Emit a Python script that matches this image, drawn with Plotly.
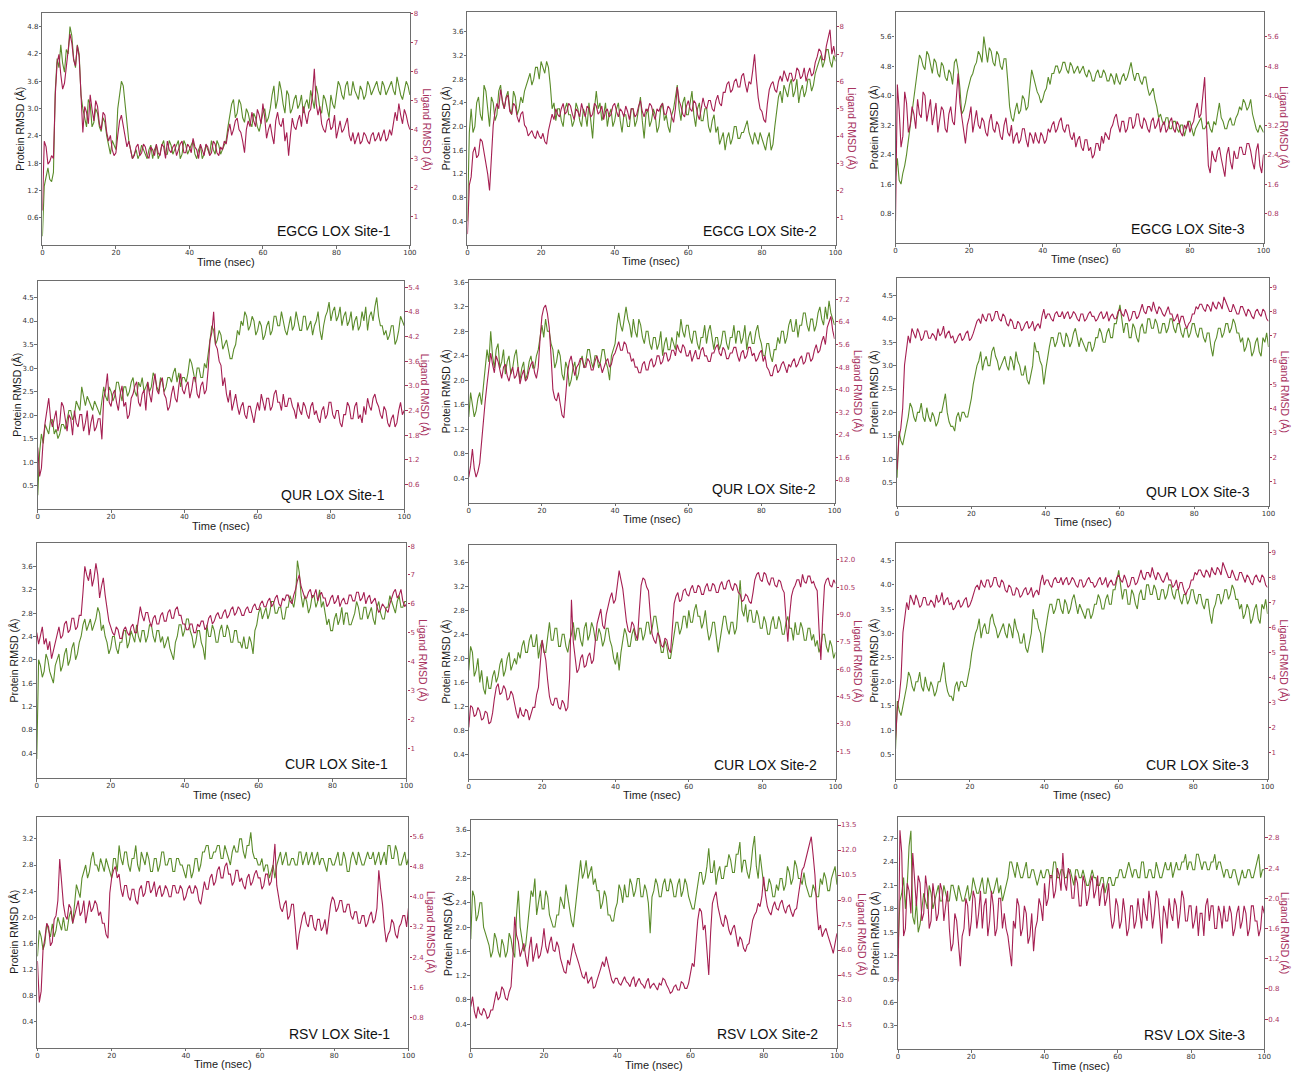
import plotly.graph_objects as go

# ---------------- data (0.5 ns sampling, 0..100 ns) ----------------
TIME_TICKS = ["0", "20", "40", "60", "80", "100"]
STEP_NS = 0.5

EGCG_S1_PROTEIN = [
 0.2,1.3,1.5,1.7,1.45,1.4,1.6,3.4,4.1,3.9,4.4,4.0,3.8,4.3,4.2,4.8,4.6,4.1,3.9,4.4,
 4.2,3.3,3.0,2.8,2.6,3.2,3.1,2.6,2.7,3.0,2.9,2.6,2.5,2.8,2.7,2.4,2.2,2.0,2.3,2.2,
 2.1,3.0,3.3,3.6,3.5,3.1,2.7,2.3,2.1,1.9,2.0,2.1,1.9,2.0,2.2,2.1,2.0,1.9,2.1,2.2,
 1.9,2.1,2.2,1.9,2.0,2.2,2.3,2.0,2.0,2.3,2.2,2.0,2.1,2.2,2.3,1.9,2.0,2.3,2.2,2.0,
 2.1,2.2,2.3,2.0,1.9,2.1,2.2,1.9,2.0,2.2,2.1,2.0,2.3,2.1,2.0,2.3,2.2,2.0,2.1,2.2,
 2.3,2.6,2.9,3.1,3.2,2.8,2.9,3.2,3.1,2.8,2.7,3.0,2.9,2.7,2.6,2.9,2.8,2.6,2.5,2.7,
 2.9,3.0,2.7,2.8,3.0,3.3,3.5,3.0,3.2,3.6,3.4,3.1,2.9,3.4,3.3,2.9,3.0,3.2,3.3,3.0,
 3.1,3.3,2.9,3.1,3.2,3.0,3.4,3.2,3.0,3.5,3.3,3.0,2.9,3.3,3.2,3.0,2.8,3.3,3.1,3.0,
 3.3,3.6,3.5,3.3,3.2,3.5,3.6,3.3,3.3,3.6,3.4,3.3,3.2,3.5,3.4,3.2,3.3,3.6,3.5,3.3,
 3.4,3.5,3.6,3.4,3.3,3.6,3.5,3.3,3.4,3.5,3.6,3.4,3.3,3.7,3.5,3.3,3.2,3.4,3.6,3.5,
 3.3]
EGCG_S1_LIGAND = [
 1.2,3.6,3.4,2.8,2.9,3.1,3.0,5.2,6.3,6.6,5.9,5.4,5.6,6.2,6.6,7.3,7.0,6.4,6.2,6.9,
 6.5,5.0,3.9,4.8,4.6,4.2,5.2,4.7,4.3,5.0,4.8,4.2,4.0,4.6,4.5,3.9,3.6,3.8,3.3,3.1,
 3.2,3.8,4.3,4.5,4.1,3.7,3.4,3.6,3.3,3.0,3.1,3.4,3.5,3.1,3.2,3.5,3.4,3.1,3.0,3.4,
 3.3,3.1,3.5,3.2,3.1,3.5,3.4,3.0,3.6,3.3,3.2,3.4,3.5,3.1,3.3,3.5,3.6,3.2,3.2,3.5,
 3.4,3.2,3.7,3.4,3.3,3.0,3.5,3.3,3.1,3.5,3.4,3.1,3.2,3.6,3.5,3.2,3.1,3.4,3.3,3.6,
 3.5,3.9,4.2,3.8,4.0,4.3,4.4,4.0,3.9,3.6,3.2,4.0,4.3,4.1,4.6,4.3,4.1,4.7,4.5,4.2,
 4.9,4.4,3.7,4.0,4.2,3.8,3.5,4.3,4.6,4.2,4.1,4.4,3.6,3.9,3.1,3.8,4.4,4.1,4.0,4.3,
 4.5,4.1,4.8,4.5,4.2,4.6,4.7,5.2,6.1,4.9,4.5,4.8,4.2,4.0,3.9,4.3,4.4,4.0,4.1,4.5,
 3.7,4.0,4.3,3.9,4.0,4.2,4.4,3.8,3.6,3.9,3.5,3.7,3.9,3.5,3.6,3.9,3.8,3.6,3.5,3.8,
 3.9,3.6,3.7,3.9,3.6,3.8,4.0,3.6,3.7,4.0,3.8,4.2,4.6,4.3,4.9,4.5,4.2,4.7,4.5,4.2,
 4.0]

EGCG_S2_PROTEIN = [
 0.4,1.9,2.3,1.9,2.0,2.4,2.5,2.2,2.1,2.7,2.6,2.3,2.0,2.5,2.4,2.1,2.2,2.6,2.7,2.4,
 2.3,2.5,2.6,2.3,2.2,2.6,2.5,2.2,2.3,2.5,2.4,2.6,2.7,2.8,2.9,2.7,2.8,3.0,3.0,2.8,
 3.1,3.0,2.9,3.1,3.0,2.7,2.3,2.4,2.1,2.3,2.3,2.1,2.0,2.3,2.4,2.2,2.2,2.0,2.1,2.4,
 2.3,2.1,2.0,2.3,2.2,2.0,2.4,2.1,1.8,2.3,2.6,2.3,2.4,2.1,2.2,2.4,2.0,2.2,2.3,2.0,
 2.1,2.3,2.4,2.1,1.9,2.2,2.2,2.0,2.0,2.3,2.3,2.0,2.1,2.3,2.5,2.1,1.8,2.2,2.3,2.0,
 2.1,2.3,2.2,1.9,2.0,2.3,2.4,2.1,2.2,2.0,1.9,2.2,2.3,2.5,2.7,2.3,2.1,2.4,2.5,2.2,
 2.2,2.4,2.6,2.2,2.0,2.3,2.4,2.1,2.1,2.3,2.3,2.0,1.9,2.1,2.2,1.9,2.0,1.7,1.8,1.9,
 1.6,1.8,1.9,1.7,1.8,2.0,2.0,1.8,1.8,1.9,1.9,2.0,2.1,1.9,1.8,1.7,1.9,1.8,1.7,1.9,
 1.8,1.7,1.6,1.8,1.9,1.6,1.7,2.0,2.3,2.5,2.6,2.4,2.7,2.6,2.5,2.7,2.8,2.5,2.6,2.8,
 2.4,2.6,2.7,2.5,2.6,2.8,2.8,2.6,2.7,2.9,3.0,3.1,3.2,3.0,3.1,3.3,3.3,3.1,3.0,3.2,
 3.1]
EGCG_S2_LIGAND = [
 0.4,2.2,2.5,3.4,3.6,3.2,3.3,3.9,3.8,3.4,3.0,2.6,2.0,3.5,4.4,4.9,5.2,5.0,5.7,5.3,
 5.0,5.4,5.5,4.9,4.8,5.2,5.1,4.7,4.5,4.8,4.9,4.4,4.3,4.0,4.1,4.2,4.0,3.9,4.2,4.0,
 3.9,4.1,3.8,3.7,4.2,4.5,4.8,4.6,5.0,4.8,4.7,5.0,5.2,4.8,4.9,5.2,5.1,4.8,4.6,5.0,
 4.9,4.7,5.2,4.9,4.7,5.1,5.0,4.7,4.8,5.2,5.1,4.8,4.9,5.1,4.6,4.9,5.0,4.7,4.8,5.1,
 5.2,4.9,4.7,5.0,4.9,4.7,5.1,4.9,4.6,5.0,5.0,4.7,4.8,5.1,5.3,4.9,4.7,5.0,4.9,5.2,
 5.1,4.8,4.6,5.0,4.9,5.1,5.2,4.8,4.8,5.1,5.0,4.7,4.5,5.0,5.8,5.3,5.1,4.8,4.7,5.1,
 5.3,5.0,4.9,5.3,5.2,4.8,4.6,5.0,5.4,5.1,5.0,5.3,5.3,5.0,4.9,5.3,5.5,5.2,5.1,5.6,
 5.6,5.9,6.0,5.6,5.7,6.0,6.1,5.8,5.8,6.2,6.3,5.9,5.6,6.0,5.9,6.4,7.0,6.1,5.4,5.0,
 4.9,4.6,4.5,5.2,5.7,5.9,6.0,5.7,5.6,6.0,6.2,6.0,6.4,6.2,6.0,6.3,6.3,6.0,6.1,6.5,
 6.4,6.1,6.2,6.5,6.0,6.3,6.5,6.2,6.3,6.7,6.9,7.2,7.1,6.8,6.8,7.3,7.6,7.9,7.0,7.3,
 6.9]

EGCG_S3_PROTEIN = [
 1.8,2.3,1.7,1.6,1.9,2.1,2.4,2.8,3.1,3.6,3.9,4.4,4.8,5.1,5.0,4.8,4.7,5.2,5.1,4.8,
 4.6,5.0,4.9,4.6,4.5,4.9,4.8,4.5,4.4,4.7,4.6,4.3,4.9,5.0,4.7,4.2,3.5,3.6,3.8,4.1,
 4.3,4.5,4.6,4.8,4.9,5.2,5.1,4.9,5.6,5.3,4.9,5.3,5.2,4.9,4.8,5.2,5.1,4.8,4.7,5.0,
 5.0,4.4,3.7,3.4,3.3,3.6,3.8,3.5,3.6,4.0,3.9,3.6,3.7,4.2,4.7,4.5,4.3,4.1,4.0,3.8,
 3.9,4.1,4.2,4.5,4.3,4.6,4.6,4.8,4.8,4.6,4.7,4.9,4.9,4.7,4.6,4.9,4.8,4.6,4.7,4.8,
 4.6,4.7,4.8,4.6,4.5,4.7,4.6,4.4,4.4,4.6,4.7,4.5,4.5,4.7,4.6,4.4,4.4,4.6,4.5,4.3,
 4.6,4.4,4.3,4.5,4.6,4.4,4.5,4.7,4.9,4.6,4.4,4.6,4.6,4.4,4.3,4.5,4.5,4.2,4.0,4.1,
 4.2,3.9,3.7,3.4,3.5,3.3,3.2,3.4,3.4,3.1,3.1,3.3,3.3,3.1,3.0,3.2,3.2,2.9,3.1,3.3,
 3.3,3.1,2.9,3.1,3.2,3.3,3.4,3.1,3.1,3.2,3.3,3.1,3.0,3.3,3.2,3.5,3.8,3.4,3.3,3.1,
 3.1,3.3,3.4,3.2,3.2,3.4,3.5,3.7,3.6,3.9,3.8,3.6,3.7,3.9,3.5,3.3,3.1,3.0,3.2,3.1,
 3.0]
EGCG_S3_LIGAND = [
 0.6,4.3,3.6,2.6,2.9,4.1,3.8,3.0,3.2,3.7,3.5,3.1,3.9,3.5,3.4,4.1,4.0,3.3,3.6,3.9,
 3.2,3.5,3.8,3.0,3.3,3.7,3.6,3.1,3.0,3.5,3.7,3.3,3.2,3.9,4.6,3.8,3.4,3.1,2.7,3.2,
 3.4,3.7,3.0,3.3,3.6,3.2,3.1,3.4,3.3,3.0,2.9,3.3,3.5,3.1,3.0,3.3,3.2,2.9,2.8,3.2,
 3.4,3.0,2.9,3.2,2.7,2.9,3.0,2.7,2.8,3.1,3.1,2.8,2.6,3.0,2.9,2.7,3.0,2.8,2.7,3.0,
 2.9,2.7,2.8,3.1,3.0,3.2,3.3,3.0,3.1,3.3,3.4,3.1,3.0,3.2,3.2,2.9,2.8,3.0,2.6,2.8,
 2.9,2.6,2.5,2.8,2.8,2.5,2.6,2.3,2.4,2.7,2.7,2.5,2.9,2.7,3.0,2.9,2.8,3.1,3.2,3.4,
 3.5,3.2,3.0,3.3,3.3,3.0,3.1,3.4,3.4,3.1,3.2,3.5,3.5,3.2,3.1,3.4,3.3,3.1,3.0,3.3,
 3.4,3.1,3.2,3.4,3.0,3.2,3.3,3.0,3.1,3.3,3.4,3.1,3.0,3.3,3.2,3.0,2.9,3.2,3.1,3.3,
 3.0,3.2,3.3,3.6,3.8,3.4,3.5,4.0,4.5,3.2,2.1,1.9,2.5,2.3,2.2,2.5,2.6,2.3,2.0,1.8,
 2.4,2.6,2.2,2.0,2.5,2.3,2.3,2.6,2.6,2.4,2.4,2.7,2.7,2.5,2.2,2.0,2.5,2.7,2.1,1.9,
 2.4]

QUR_S1_PROTEIN = [
 0.3,1.2,1.6,1.4,1.8,1.7,1.6,1.9,1.9,1.6,1.7,1.5,1.6,1.8,1.8,1.7,1.9,2.1,2.1,1.9,
 2.0,2.3,2.2,2.1,2.6,2.4,2.2,2.4,2.3,2.2,2.1,2.3,2.2,2.1,2.0,2.3,2.6,2.4,2.3,2.6,
 2.5,2.3,2.4,2.7,2.7,2.5,2.3,2.6,2.6,2.4,2.5,2.7,2.8,2.5,2.4,2.7,2.6,2.8,2.5,2.6,
 2.7,2.5,2.6,2.9,2.8,2.6,2.5,2.8,2.7,2.5,2.6,2.8,2.8,2.7,2.9,3.0,2.7,2.9,2.6,2.8,
 2.8,2.7,2.9,3.2,3.1,2.9,2.7,3.0,3.0,2.8,2.8,3.1,3.0,3.3,3.6,3.9,3.8,3.5,3.6,3.8,
 3.7,3.4,3.5,3.6,3.4,3.2,3.2,3.4,3.5,3.8,3.7,4.0,3.9,4.2,4.1,3.8,3.9,4.1,4.0,3.7,
 3.8,4.0,3.9,3.6,3.7,3.9,4.0,3.7,3.8,4.1,4.1,3.9,3.9,4.2,4.0,3.8,3.7,3.9,4.1,3.8,
 3.9,4.2,4.0,3.8,3.8,4.1,4.1,3.8,3.9,4.0,3.7,3.9,4.0,4.2,3.8,3.6,3.9,4.1,4.2,4.4,
 4.0,4.2,4.3,4.0,4.1,4.3,3.9,4.1,4.2,3.9,4.0,4.2,3.8,4.0,4.1,3.8,3.9,4.2,4.0,4.3,
 3.8,4.1,4.2,4.0,4.3,4.5,4.1,3.9,3.9,3.7,3.8,3.6,3.7,3.9,3.9,3.5,3.6,3.8,4.1,4.0,
 3.9]
QUR_S1_LIGAND = [
 1.5,0.8,1.0,1.7,2.1,2.4,2.7,2.2,2.0,2.2,2.4,1.9,2.1,2.6,2.5,2.2,1.9,2.3,2.2,1.8,
 2.4,2.1,2.0,2.3,2.3,1.9,2.1,2.4,1.8,2.1,2.3,1.9,2.0,2.2,2.2,1.7,2.7,2.9,3.3,2.6,
 2.5,2.8,2.9,2.6,2.4,2.8,3.0,2.5,2.6,2.2,2.3,2.7,2.8,3.0,3.1,2.6,2.5,2.8,2.9,2.4,
 3.1,2.8,2.6,3.0,3.3,2.9,2.8,3.1,3.2,2.8,2.7,2.4,2.5,2.8,3.0,2.7,2.6,3.0,3.3,2.9,
 2.8,3.0,3.1,2.7,2.9,3.2,3.2,2.8,2.7,3.0,3.1,2.8,2.9,3.4,4.1,4.3,4.8,4.0,3.9,3.6,
 3.5,3.0,3.2,2.8,2.6,2.9,2.4,2.6,2.8,2.5,2.3,2.5,2.6,2.3,2.2,2.5,2.5,2.3,2.1,2.4,
 2.6,2.4,2.8,2.6,2.4,2.7,2.7,2.4,2.5,2.8,2.9,2.6,2.6,2.4,2.8,2.5,2.5,2.7,2.7,2.5,
 2.4,2.2,2.6,2.4,2.3,2.6,2.5,2.3,2.2,2.5,2.6,2.3,2.4,2.2,2.1,2.4,2.5,2.2,2.3,2.6,
 2.6,2.3,2.2,2.4,2.4,2.1,2.0,2.3,2.3,2.6,2.5,2.2,2.2,2.5,2.6,2.2,2.3,2.1,2.5,2.3,
 2.7,2.5,2.4,2.7,2.8,2.6,2.5,2.3,2.2,2.5,2.4,2.1,2.0,2.2,2.3,2.0,2.1,2.4,2.6,2.3,
 2.4]

QUR_S2_PROTEIN = [
 1.4,1.8,1.6,1.4,1.5,1.7,1.8,1.6,1.9,2.2,2.5,2.3,2.8,2.4,2.2,2.5,2.6,2.2,2.3,2.5,
 2.1,2.3,2.4,2.1,2.2,2.4,2.5,2.2,2.0,2.2,2.3,2.0,2.1,2.3,2.4,2.2,2.2,2.4,2.5,2.7,
 2.9,2.7,3.0,2.8,2.8,2.6,2.5,2.2,2.3,2.5,2.4,2.1,2.0,2.3,2.2,1.9,2.0,2.2,2.3,2.0,
 2.1,2.3,2.4,2.2,2.3,2.5,2.5,2.3,2.2,2.4,2.4,2.2,2.3,2.5,2.5,2.3,2.2,2.0,2.4,2.5,
 2.6,2.9,3.1,2.9,2.8,3.0,3.2,3.0,2.9,2.7,3.0,2.8,2.7,3.0,2.9,2.7,2.6,2.8,2.8,2.6,
 2.5,2.7,2.7,2.5,2.6,2.8,2.4,2.6,2.7,2.5,2.5,2.7,2.6,2.5,2.8,2.7,3.0,2.8,2.7,2.9,
 2.9,2.7,2.6,2.8,2.8,2.6,2.5,2.7,2.7,2.9,2.6,2.8,2.9,2.7,2.5,2.7,2.7,2.5,2.6,2.8,
 2.8,2.6,2.5,2.7,2.7,2.9,2.6,2.8,2.8,2.6,2.7,2.9,2.5,2.7,2.8,2.6,2.6,2.8,2.9,2.7,
 2.6,2.4,2.4,2.6,2.6,2.4,2.3,2.5,2.5,2.7,2.6,2.8,2.8,2.6,2.7,2.9,3.0,2.8,2.8,3.0,
 2.7,2.9,2.9,3.1,3.1,2.9,2.8,3.0,3.0,2.8,2.9,3.1,3.2,3.0,2.9,3.2,3.0,3.3,3.1,3.0,
 2.9]
QUR_S2_LIGAND = [
 0.9,1.3,1.9,1.2,0.9,1.1,1.4,2.2,3.0,3.6,4.2,4.8,5.3,4.9,4.6,5.2,5.0,4.7,4.4,4.8,
 4.9,4.5,4.3,4.6,4.8,4.4,4.5,4.8,4.2,4.5,4.7,4.3,4.4,4.7,4.9,5.0,4.6,4.4,4.8,5.8,
 6.6,6.9,7.0,6.7,6.2,5.2,4.0,3.7,3.6,3.9,3.4,3.1,3.0,3.8,4.6,5.0,5.2,4.8,4.5,4.8,
 4.9,5.1,5.1,4.8,4.8,5.1,5.0,4.7,4.7,5.0,5.2,5.0,4.9,4.6,4.8,5.0,5.1,4.8,4.9,5.2,
 5.3,5.5,5.7,5.4,5.4,5.7,5.6,5.3,5.3,5.0,5.1,4.8,4.8,4.6,4.6,4.9,5.0,4.7,4.7,5.0,
 5.1,4.8,4.9,5.2,5.2,4.9,5.0,5.3,5.3,5.0,5.1,5.4,5.4,5.2,5.6,5.4,5.3,5.6,5.5,5.2,
 5.2,5.4,5.0,5.2,5.4,5.1,5.1,5.4,5.5,5.2,5.2,5.0,5.0,5.3,5.3,5.5,5.6,5.3,5.2,5.5,
 5.4,5.1,5.1,5.3,5.3,5.5,5.5,5.2,5.0,5.3,5.4,5.1,5.2,5.5,5.5,5.2,5.3,5.0,5.1,5.3,
 5.4,5.0,5.2,4.8,4.7,4.5,4.5,4.8,4.9,4.6,4.7,4.9,5.0,4.8,4.6,4.9,4.8,5.0,5.1,4.8,
 4.9,5.1,5.2,4.9,5.0,5.3,5.3,5.0,5.1,5.4,5.6,5.3,5.4,5.7,5.9,5.6,6.2,6.4,6.6,6.1,
 5.8]

QUR_S3_PROTEIN = [
 0.6,1.6,1.4,1.3,1.5,1.7,1.9,2.2,2.1,1.9,1.8,2.0,2.0,2.2,1.9,1.8,2.1,1.9,1.8,2.0,
 1.9,1.7,1.8,2.0,2.0,2.2,2.4,2.0,1.8,1.7,1.7,1.6,1.9,2.0,1.8,2.0,2.0,1.9,1.9,2.1,
 2.3,2.6,2.8,3.0,3.1,3.3,2.9,3.1,3.2,3.0,3.0,3.3,3.4,3.2,3.1,2.9,3.0,3.1,3.2,3.0,
 2.9,3.2,3.1,2.9,3.3,3.1,3.0,2.8,2.8,3.0,2.7,2.6,2.8,3.0,3.5,3.3,3.3,3.1,3.0,2.6,
 2.9,3.2,3.4,3.6,3.6,3.4,3.5,3.7,3.7,3.5,3.4,3.7,3.6,3.4,3.5,3.7,3.8,3.6,3.4,3.6,
 3.5,3.4,3.3,3.5,3.5,3.3,3.4,3.6,3.6,3.8,3.7,3.5,3.5,3.7,3.8,3.6,3.6,3.9,3.9,4.1,
 4.3,4.0,3.7,3.9,3.9,3.6,3.6,3.9,3.8,3.6,3.5,3.8,3.9,3.7,3.7,4.0,4.0,3.8,3.8,4.0,
 3.9,3.7,3.7,3.9,3.9,3.7,3.8,4.0,4.0,3.8,3.7,3.9,3.9,3.7,3.6,3.8,3.8,3.6,3.7,3.9,
 3.9,3.7,3.6,3.8,3.8,3.6,3.5,3.7,3.7,3.4,3.2,3.5,3.6,3.8,3.8,3.6,3.7,3.9,3.9,3.7,
 3.8,4.0,3.9,3.7,3.7,3.5,3.6,3.3,3.4,3.6,3.5,3.2,3.3,3.5,3.6,3.3,3.2,3.6,3.5,3.7,
 3.4]
QUR_S3_LIGAND = [
 1.5,2.8,3.2,4.0,5.8,6.4,7.0,6.7,7.3,7.1,6.9,7.3,7.1,6.8,6.9,7.2,7.2,6.9,6.9,7.1,
 7.0,6.8,7.3,7.0,7.1,7.4,6.9,7.1,7.2,6.9,7.0,6.7,6.8,7.0,7.1,6.8,6.9,7.1,7.2,6.8,
 6.9,7.1,7.4,7.6,7.7,7.5,7.9,7.7,7.6,7.9,7.9,7.6,7.7,8.0,8.0,7.7,7.6,7.9,7.8,7.5,
 7.4,7.7,7.6,7.3,7.3,7.6,7.5,7.2,7.3,7.5,7.6,7.3,7.4,7.6,7.2,7.4,7.5,7.3,7.8,8.1,
 7.7,7.9,7.9,7.7,7.6,7.9,8.0,7.8,7.8,8.0,7.7,7.9,8.0,7.7,7.8,8.0,7.9,7.7,7.6,7.9,
 7.9,7.6,7.7,7.9,8.0,7.8,7.8,7.6,7.7,7.9,8.0,7.7,7.8,8.0,7.6,7.8,7.9,7.7,7.7,8.0,
 8.1,7.9,7.8,8.1,7.9,7.6,7.7,8.0,8.0,7.7,7.8,8.1,8.3,8.0,7.9,8.2,8.2,8.0,8.4,8.1,
 7.9,8.2,8.1,7.9,7.8,8.0,8.2,7.9,7.9,7.6,7.7,7.9,7.5,7.8,7.8,7.5,7.3,7.5,7.6,7.9,
 7.9,8.2,8.1,8.3,8.3,8.1,8.0,8.3,8.2,8.0,8.4,8.2,8.1,8.4,8.3,8.1,8.6,8.4,8.2,8.0,
 8.0,8.3,8.1,7.9,7.9,8.2,8.2,8.0,7.8,8.1,8.0,7.8,7.7,8.0,8.1,7.9,7.8,8.1,8.0,7.7,
 7.6]

CUR_S1_PROTEIN = [
 0.3,2.0,1.9,1.7,1.8,2.1,2.0,1.8,1.7,1.6,1.9,2.0,2.1,1.8,1.9,2.1,2.2,1.9,2.0,2.2,
 2.3,2.0,2.1,2.3,2.4,2.6,2.7,2.5,2.6,2.7,2.5,2.6,2.7,2.9,2.8,2.5,2.6,2.4,2.3,2.1,
 2.2,2.4,2.4,2.2,2.1,2.3,2.3,2.5,2.5,2.2,2.3,2.5,2.4,2.3,2.6,2.4,2.3,2.5,2.5,2.3,
 2.4,2.6,2.6,2.4,2.3,2.5,2.5,2.3,2.4,2.2,2.3,2.4,2.2,2.1,2.0,2.3,2.4,2.6,2.6,2.4,
 2.5,2.7,2.7,2.5,2.4,2.2,2.3,2.5,2.5,2.3,2.2,2.0,2.6,2.4,2.4,2.6,2.5,2.3,2.3,2.5,
 2.6,2.4,2.4,2.6,2.5,2.3,2.3,2.5,2.5,2.3,2.3,2.2,2.4,2.2,2.2,2.4,2.3,2.1,2.5,2.6,
 2.8,2.9,2.7,2.8,2.9,2.7,2.8,3.0,3.0,2.8,2.8,2.9,2.9,2.7,2.7,2.9,2.9,3.1,3.0,2.9,
 3.1,3.7,3.5,3.1,2.9,3.1,3.0,2.8,2.9,3.1,3.1,2.9,3.0,3.2,2.9,3.0,2.8,2.6,2.7,2.5,
 2.5,2.7,2.8,2.6,2.7,2.9,2.6,2.8,2.8,2.6,2.6,2.7,2.8,3.0,2.9,2.7,2.7,2.9,2.9,2.7,
 2.8,2.9,2.7,2.6,2.9,3.0,2.8,2.7,2.7,2.9,2.9,3.1,3.0,2.9,2.8,3.0,3.1,2.9,2.9,3.0,
 3.0]
CUR_S1_LIGAND = [
 5.0,4.6,4.9,5.2,4.6,4.8,4.4,4.7,4.1,4.4,4.6,5.0,5.2,4.8,4.9,5.3,5.4,5.0,5.1,5.5,
 5.5,5.1,5.2,5.6,5.6,6.4,7.3,7.0,6.8,7.2,6.6,6.9,7.4,7.0,6.2,6.6,6.9,6.3,5.8,5.4,
 5.2,5.0,4.9,5.2,5.1,4.8,4.8,5.1,5.2,5.0,4.9,5.2,5.3,5.0,5.0,5.5,5.9,5.6,5.4,5.7,
 5.7,5.4,5.2,5.5,5.6,5.3,5.3,5.6,5.7,5.4,5.4,5.7,5.8,5.5,5.5,5.8,5.9,5.6,5.6,5.3,
 5.3,5.1,5.1,5.3,5.3,5.0,5.0,5.3,5.2,5.4,5.4,5.1,5.2,5.5,5.6,5.3,5.4,5.6,5.7,5.5,
 5.5,5.7,5.8,5.5,5.6,5.8,5.9,5.6,5.7,5.9,5.8,5.6,5.6,5.8,5.9,5.7,5.7,5.9,6.0,5.8,
 5.8,6.0,6.1,5.9,5.9,6.1,6.2,5.9,6.0,6.2,6.3,6.0,5.9,6.2,6.1,6.3,6.3,6.1,6.0,6.3,
 6.5,6.8,7.0,6.6,6.4,6.2,6.2,6.4,6.5,6.2,6.3,6.5,6.1,6.3,6.4,6.2,6.2,5.9,6.0,6.2,
 6.3,6.0,6.1,6.3,5.9,6.1,6.2,6.0,6.0,6.3,6.3,6.1,6.1,6.4,6.4,6.1,6.2,6.4,6.0,6.2,
 6.3,6.0,6.1,6.2,5.9,5.7,5.8,6.0,5.9,5.8,5.7,6.0,6.2,6.4,6.5,6.2,6.3,6.5,6.1,5.9,
 6.0]

CUR_S2_PROTEIN = [
 1.8,2.2,2.1,1.7,1.8,2.0,1.6,1.8,1.5,1.4,1.7,1.5,1.5,1.7,1.8,1.6,1.7,1.9,2.0,1.7,
 1.8,2.0,2.1,1.8,1.9,2.0,1.9,2.1,2.0,2.2,2.3,2.1,2.1,2.3,2.4,2.2,2.2,2.4,2.0,2.2,
 2.3,2.1,2.1,2.4,2.6,2.3,2.3,2.5,2.5,2.2,2.2,2.4,2.4,2.2,2.1,2.3,2.4,2.6,2.3,2.5,
 2.5,2.3,2.2,2.5,2.6,2.3,2.4,2.6,2.5,2.3,2.3,2.5,2.4,2.2,2.3,2.5,2.5,2.3,2.2,2.0,
 1.9,2.1,1.8,2.1,2.3,2.5,2.4,2.2,2.2,2.4,2.5,2.3,2.3,2.5,2.5,2.3,2.4,2.6,2.6,2.4,
 2.5,2.7,2.7,2.5,2.3,2.1,2.1,2.3,2.2,2.0,2.0,2.2,2.4,2.6,2.6,2.4,2.5,2.7,2.7,2.5,
 2.8,2.6,2.6,2.8,2.9,2.7,2.7,2.5,2.6,2.8,2.5,2.3,2.4,2.6,2.6,2.3,2.1,2.3,2.5,2.7,
 2.7,2.5,2.4,2.6,2.6,2.4,2.5,2.9,3.3,2.8,2.7,2.9,2.6,2.8,2.8,2.6,2.6,2.8,2.7,2.5,
 2.5,2.7,2.6,2.4,2.4,2.6,2.7,2.5,2.5,2.7,2.6,2.4,2.4,2.6,2.7,2.5,2.5,2.3,2.6,2.4,
 2.4,2.6,2.5,2.3,2.3,2.5,2.5,2.3,2.4,2.2,2.3,2.1,2.2,2.4,2.4,2.2,2.1,2.3,2.2,2.0,
 2.1]
CUR_S2_LIGAND = [
 2.8,4.0,3.9,3.4,3.5,3.9,3.7,3.2,3.3,3.7,3.6,3.0,3.1,3.6,4.4,5.0,5.2,4.6,4.7,5.1,
 4.9,4.3,4.4,4.8,4.6,4.0,3.6,3.3,3.9,3.5,3.4,3.8,3.7,3.2,3.5,3.9,3.9,4.6,5.0,6.2,
 7.6,7.0,6.5,5.4,4.5,4.1,4.0,4.4,4.4,3.9,3.8,4.3,4.1,3.7,3.9,5.5,9.8,7.5,6.5,5.8,
 6.0,6.6,6.8,6.1,6.2,6.7,6.9,6.3,6.5,7.4,8.5,8.9,9.3,8.4,8.2,9.0,9.5,9.9,10.2,9.6,
 9.8,10.8,11.4,10.9,10.4,9.5,8.6,8.1,8.0,8.6,8.4,7.9,7.6,9.2,10.6,11.0,10.9,10.5,10.3,9.0,
 7.9,7.6,7.4,8.0,7.8,7.3,7.2,7.7,7.6,7.1,6.9,8.2,9.6,10.0,10.2,9.7,9.8,10.3,10.4,10.1,
 10.0,10.4,10.6,10.2,10.2,10.6,10.5,10.1,10.1,10.5,10.7,10.3,10.3,10.7,10.6,10.2,10.2,10.6,10.8,10.4,
 10.4,10.8,10.9,10.5,10.3,10.7,10.6,10.2,10.1,9.7,9.8,10.1,10.0,9.7,9.6,10.2,10.9,11.2,11.3,10.9,
 10.8,11.3,11.2,10.8,10.6,11.0,11.0,10.6,10.5,10.9,10.8,10.4,10.2,8.8,7.5,9.0,10.0,10.4,10.6,10.9,
 10.9,10.5,11.2,10.8,10.7,11.1,11.1,10.7,10.8,10.5,10.3,8.2,6.5,8.8,10.6,10.9,11.0,10.6,10.5,10.9,
 10.7]

# CUR Site-3 trace in the picture is identical to QUR Site-3
CUR_S3_PROTEIN = list(QUR_S3_PROTEIN)
CUR_S3_LIGAND = list(QUR_S3_LIGAND)

RSV_S1_PROTEIN = [
 1.4,1.8,1.7,1.5,1.6,1.9,1.8,1.7,1.9,1.7,1.8,2.0,1.9,1.8,2.0,1.8,1.8,2.0,2.1,1.9,
 2.2,2.5,2.4,2.3,2.6,2.7,2.8,2.6,2.7,2.9,3.0,2.8,2.8,2.7,2.9,2.8,2.7,2.9,2.8,2.7,
 2.6,2.9,2.9,2.7,3.1,2.9,2.8,3.0,3.0,2.8,2.7,2.9,2.9,3.1,2.8,2.7,3.0,2.9,2.8,3.0,
 2.9,2.7,2.7,2.9,2.9,2.7,2.8,3.0,3.0,2.8,2.8,2.9,2.9,2.7,2.7,2.9,2.9,2.8,2.8,2.7,
 2.6,2.8,2.8,2.6,2.7,2.9,2.9,2.7,2.8,3.0,3.0,3.1,3.1,2.9,2.9,3.0,3.0,3.1,3.1,2.9,
 2.9,3.1,3.0,2.9,2.8,3.0,3.1,3.0,3.0,3.2,3.2,3.0,2.9,3.1,3.1,3.3,3.0,2.9,2.9,2.8,
 2.8,2.9,2.7,2.8,2.8,2.6,2.7,2.8,2.6,2.8,2.9,3.0,2.8,2.9,3.0,2.8,2.8,2.9,2.9,2.8,
 2.8,3.0,3.0,2.8,2.9,3.0,2.8,2.9,3.0,2.8,2.9,3.0,2.8,2.9,2.9,2.8,2.7,2.9,2.9,2.8,
 2.8,2.9,3.0,2.8,2.8,3.0,2.9,2.7,2.7,2.9,3.0,2.9,2.8,3.0,2.9,2.8,2.8,2.9,3.0,2.9,
 2.9,3.0,2.8,2.9,3.0,2.8,2.9,3.0,2.8,3.1,3.1,2.9,2.9,3.1,3.0,2.8,2.8,2.9,3.0,2.8,
 2.9]
RSV_S1_LIGAND = [
 2.3,1.2,1.5,2.6,2.9,3.3,3.2,2.7,2.8,3.4,3.5,3.9,5.0,4.3,3.8,3.5,3.4,3.8,3.7,3.3,
 3.5,3.7,3.9,3.5,3.6,3.9,3.3,3.6,3.9,3.6,3.7,3.9,3.8,3.5,3.6,3.3,3.3,3.0,2.9,4.1,
 4.5,4.7,4.8,4.5,4.6,4.2,4.0,4.3,4.3,4.0,3.9,4.2,4.2,3.9,3.8,4.2,4.3,4.0,4.1,4.4,
 4.4,4.1,4.2,4.4,4.0,4.2,4.3,4.0,4.1,4.3,4.2,4.0,4.0,4.3,4.3,4.1,4.1,4.3,4.2,3.9,
 4.0,4.2,4.3,4.1,4.1,4.3,4.2,3.9,3.8,4.1,4.4,4.2,4.2,4.5,4.6,4.3,4.4,4.7,4.8,4.5,
 4.5,4.8,4.9,4.6,4.6,4.3,4.4,4.7,4.7,4.4,4.5,4.3,4.2,4.5,4.6,4.3,4.4,4.6,4.7,4.5,
 4.5,4.2,4.3,4.6,4.6,4.3,4.4,4.8,5.4,4.3,4.0,3.7,3.6,3.8,3.9,3.4,3.5,3.8,3.8,3.2,
 2.6,3.0,3.3,3.5,3.6,3.3,3.2,3.5,3.5,3.2,3.1,3.4,3.4,3.1,3.2,3.4,3.0,3.4,3.8,4.0,
 3.9,3.6,3.7,3.9,3.9,3.6,3.6,3.8,3.8,3.5,3.4,3.6,3.6,3.3,3.3,3.5,3.5,3.2,3.3,3.5,
 3.6,3.3,3.4,3.7,4.7,4.2,3.8,3.2,2.8,3.0,3.1,3.4,3.3,3.0,2.9,3.2,3.3,3.5,3.5,3.2,
 3.7]

RSV_S2_PROTEIN = [
 1.8,2.6,2.5,2.1,2.2,2.4,2.4,2.0,1.9,1.8,1.7,1.5,1.6,1.9,1.8,1.6,1.5,1.8,1.7,1.5,
 1.6,1.9,1.8,1.6,1.5,2.2,2.6,2.0,1.8,1.6,1.7,2.0,2.3,2.6,2.5,2.8,2.2,2.4,2.6,2.3,
 2.3,2.6,2.5,2.2,2.1,2.0,2.0,2.2,2.2,2.5,2.4,2.3,2.7,2.5,2.3,2.1,2.0,2.3,2.5,2.9,
 3.1,2.8,2.9,3.1,2.8,2.9,3.0,2.7,2.8,2.6,2.6,2.3,2.4,2.6,2.5,2.2,2.2,2.1,2.1,2.3,
 2.4,2.7,2.6,2.4,2.7,2.5,2.5,2.8,2.7,2.5,2.6,2.8,2.8,2.5,2.5,2.7,2.6,2.4,1.9,2.5,
 2.6,2.8,2.7,2.5,2.5,2.7,2.8,2.6,2.6,2.8,2.7,2.5,2.5,2.7,2.8,2.5,2.6,2.8,2.7,2.5,
 2.4,2.3,2.3,2.5,2.7,2.9,2.9,2.7,2.8,3.0,3.3,2.9,2.9,3.1,2.7,2.9,3.0,2.8,2.8,3.0,
 3.0,3.2,3.1,2.9,2.9,3.2,3.2,3.4,2.9,3.1,3.1,2.9,2.8,3.0,3.3,3.5,3.0,2.8,3.2,2.9,
 2.7,2.6,2.6,2.8,2.7,2.5,2.5,2.7,2.6,2.8,2.8,2.6,2.7,3.0,2.9,2.7,2.8,3.1,3.0,2.8,
 2.8,2.7,2.9,2.7,2.6,2.5,2.5,2.7,2.6,2.5,2.5,2.8,2.7,2.9,2.8,2.6,2.6,2.8,2.9,3.0,
 2.7]
RSV_S2_LIGAND = [
 2.6,3.2,2.3,1.9,2.6,2.2,2.1,2.5,2.3,1.9,2.0,2.4,2.4,2.9,3.5,3.0,3.2,3.8,3.6,3.1,
 3.0,3.5,3.8,5.5,8.0,6.9,6.5,5.6,6.0,6.4,5.6,5.0,6.1,6.8,5.3,5.9,6.4,5.5,5.7,6.3,
 7.3,6.2,5.8,6.4,6.8,6.0,5.9,6.5,6.2,5.5,5.0,4.7,4.6,5.4,5.1,5.8,6.4,5.9,5.6,5.2,
 4.8,4.4,4.3,4.7,4.0,4.2,4.4,3.7,3.8,4.2,4.5,4.9,5.3,5.0,5.6,5.1,4.6,4.2,4.0,4.3,
 4.3,4.0,3.9,4.2,4.4,4.1,4.0,3.8,4.2,4.4,3.8,4.1,4.3,4.0,3.9,3.7,4.1,4.3,3.7,3.9,
 4.0,3.8,3.6,4.0,3.9,4.3,4.2,3.9,3.7,3.4,3.5,3.8,3.9,3.6,3.6,4.1,4.0,3.7,3.7,4.0,
 4.6,5.2,5.0,6.5,7.8,8.5,8.3,7.2,7.5,6.0,4.5,7.0,8.8,9.2,9.5,8.6,8.0,7.6,7.4,8.1,
 7.8,7.2,6.9,7.3,7.5,6.7,6.2,6.8,6.6,6.1,5.9,6.3,6.4,7.1,7.8,8.1,8.3,8.8,8.6,9.2,
 10.4,9.3,8.6,8.3,8.1,8.6,8.9,8.5,8.4,8.8,9.0,8.5,8.2,8.6,8.7,8.3,8.0,8.4,8.5,9.3,
 10.2,10.8,11.0,11.5,11.8,12.3,12.8,11.7,10.5,8.5,7.2,7.5,6.8,7.1,7.3,6.9,6.6,6.2,5.8,6.5,
 7.0]

RSV_S3_PROTEIN = [
 1.3,1.9,2.0,2.2,1.8,2.1,2.6,2.8,1.7,1.6,1.9,1.5,1.6,1.8,2.0,1.9,1.8,2.1,2.0,1.8,
 1.9,2.0,2.1,1.9,1.9,2.1,2.0,1.9,1.9,2.1,2.1,2.0,1.9,2.1,2.0,1.9,1.9,2.0,2.1,1.9,
 2.0,2.2,2.1,2.0,2.0,2.1,2.2,2.0,2.0,2.2,2.1,2.0,2.0,2.1,2.2,2.0,2.1,1.9,2.0,2.1,
 2.2,2.4,2.4,2.3,2.2,2.4,2.3,2.2,2.2,2.3,2.4,2.2,2.2,2.3,2.3,2.2,2.1,2.2,2.3,2.2,
 2.2,2.3,2.3,2.2,2.2,2.4,2.4,2.2,2.2,2.3,2.3,2.2,2.2,2.3,2.3,2.2,2.1,2.3,2.3,2.2,
 2.2,2.3,2.2,2.1,2.1,2.2,2.3,2.2,2.2,2.1,2.1,2.2,2.2,2.0,2.1,2.2,2.2,2.1,2.1,2.2,
 2.2,2.3,2.3,2.2,2.2,2.3,2.4,2.3,2.2,2.3,2.3,2.2,2.2,2.4,2.4,2.2,2.2,2.3,2.3,2.2,
 2.2,2.4,2.3,2.2,2.2,2.3,2.4,2.3,2.3,2.4,2.2,2.3,2.4,2.3,2.3,2.4,2.4,2.5,2.3,2.4,
 2.4,2.3,2.3,2.5,2.5,2.4,2.3,2.4,2.4,2.3,2.3,2.4,2.4,2.5,2.3,2.4,2.4,2.3,2.2,2.3,
 2.3,2.2,2.2,2.3,2.3,2.2,2.1,2.2,2.3,2.2,2.2,2.3,2.3,2.2,2.2,2.3,2.4,2.5,2.2,2.3,
 2.3]
RSV_S3_LIGAND = [
 0.9,2.9,2.6,1.5,1.6,2.2,2.1,1.8,2.6,2.2,1.9,2.3,2.2,1.7,1.8,2.3,2.1,1.6,1.7,2.2,
 2.0,1.7,1.8,2.2,2.1,1.7,1.9,2.1,1.6,1.3,1.4,1.8,1.7,1.4,1.1,1.5,1.6,2.0,1.9,1.5,
 1.7,2.1,2.0,1.6,1.8,2.1,1.6,1.9,2.0,1.5,1.7,2.1,1.9,1.5,1.6,2.0,2.0,1.6,1.8,1.6,
 1.5,1.3,1.1,1.7,1.6,2.0,1.9,1.5,1.6,1.9,1.8,1.4,1.5,1.8,1.3,1.6,1.7,2.0,1.9,1.7,
 2.2,1.9,2.0,2.3,2.3,2.0,2.1,2.4,2.3,2.1,2.6,2.2,2.1,2.4,2.3,2.0,2.0,2.3,2.2,1.9,
 1.9,2.3,2.2,1.9,2.0,2.2,2.3,2.0,2.1,2.3,1.9,2.1,2.2,1.9,2.0,2.2,1.8,1.6,1.7,2.0,
 1.9,1.6,1.7,2.0,1.8,1.5,1.6,1.9,1.9,1.6,1.7,2.0,1.8,1.6,2.0,1.8,1.7,2.1,1.9,1.6,
 1.8,2.1,2.0,1.7,1.4,1.9,1.8,1.6,2.0,1.8,1.7,2.0,1.9,1.6,1.8,2.1,2.0,1.7,1.7,1.9,
 1.9,1.6,1.7,1.9,1.5,1.8,1.8,1.5,1.9,2.0,1.7,1.9,1.9,1.6,1.6,1.9,1.8,1.6,1.9,1.7,
 1.7,1.9,1.8,1.5,1.6,1.8,1.9,1.6,1.7,1.9,1.8,1.5,1.6,1.9,1.9,1.7,1.7,1.5,1.6,1.9,
 1.8]

# tick labels
T_06 = ["0.6", "1.2", "1.8", "2.4", "3.0", "3.6", "4.2", "4.8"]
T_04 = ["0.4", "0.8", "1.2", "1.6", "2.0", "2.4", "2.8", "3.2", "3.6"]
T_04B = ["0.4", "0.8", "1.2", "1.6", "2.0", "2.4", "2.8", "3.2"]
T_08 = ["0.8", "1.6", "2.4", "3.2", "4.0", "4.8", "5.6"]
T_08B = ["0.8", "1.6", "2.4", "3.2", "4.0", "4.8", "5.6", "6.4", "7.2"]
T_05 = ["0.5", "1.0", "1.5", "2.0", "2.5", "3.0", "3.5", "4.0", "4.5"]
T_06B = ["0.6", "1.2", "1.8", "2.4", "3.0", "3.6", "4.2", "4.8", "5.4"]
T_1_8 = ["1", "2", "3", "4", "5", "6", "7", "8"]
T_1_9 = ["1", "2", "3", "4", "5", "6", "7", "8", "9"]
T_15 = ["1.5", "3.0", "4.5", "6.0", "7.5", "9.0", "10.5", "12.0"]
T_15B = ["1.5", "3.0", "4.5", "6.0", "7.5", "9.0", "10.5", "12.0", "13.5"]
T_03 = ["0.3", "0.6", "0.9", "1.2", "1.5", "1.8", "2.1", "2.4", "2.7"]
T_04C = ["0.4", "0.8", "1.2", "1.6", "2.0", "2.4", "2.8"]

LABELS = ["EGCG LOX Site-1", "EGCG LOX Site-2", "EGCG LOX Site-3",
          "QUR LOX Site-1", "QUR LOX Site-2", "QUR LOX Site-3",
          "CUR LOX Site-1", "CUR LOX Site-2", "CUR LOX Site-3",
          "RSV LOX Site-1", "RSV LOX Site-2", "RSV LOX Site-3"]
PROTEIN = [EGCG_S1_PROTEIN, EGCG_S2_PROTEIN, EGCG_S3_PROTEIN,
           QUR_S1_PROTEIN, QUR_S2_PROTEIN, QUR_S3_PROTEIN,
           CUR_S1_PROTEIN, CUR_S2_PROTEIN, CUR_S3_PROTEIN,
           RSV_S1_PROTEIN, RSV_S2_PROTEIN, RSV_S3_PROTEIN]
LIGAND = [EGCG_S1_LIGAND, EGCG_S2_LIGAND, EGCG_S3_LIGAND,
          QUR_S1_LIGAND, QUR_S2_LIGAND, QUR_S3_LIGAND,
          CUR_S1_LIGAND, CUR_S2_LIGAND, CUR_S3_LIGAND,
          RSV_S1_LIGAND, RSV_S2_LIGAND, RSV_S3_LIGAND]
LEFT_TICKS = [T_06, T_04, T_08, T_05, T_04, T_05, T_04, T_04, T_05, T_04B, T_04, T_03]
RIGHT_TICKS = [T_1_8, T_1_8, T_08, T_06B, T_08B, T_1_9, T_1_8, T_15, T_1_9, T_08, T_15B, T_04C]

# ---------------- layout (pixels in the 1307x1075 page) ----------------
W, H = 1307, 1075
# x_left, x_right, y_top, y_bottom
BOX = [(40.7, 410.7, 10, 243), (468.7, 839.3, 9.3, 242.7), (899.7, 1270.3, 9.3, 240.7),
       (36, 405, 278.3, 507.7), (470, 838.3, 277.7, 501), (901.3, 1275.3, 276, 504.3),
       (35, 407.3, 541.7, 777.3), (470, 839.3, 543.3, 777.7), (899.7, 1274.3, 541.7, 777.7),
       (35.7, 409.3, 816, 1047.7), (472, 840.7, 819, 1048.3), (902.3, 1271, 816, 1049.3)]
LRANGE = [(0, 5.1), (0, 3.93), (0, 6.26), (0, 4.86), (0, 3.64), (0, 4.87),
          (-0.03, 4.0), (0, 3.89), (0, 4.86), (0, 3.54), (0, 3.77), (0, 2.98)]
RRANGE = [(0, 8.03), (0, 8.54), (0, 6.26), (0, 5.56), (0, 7.89), (0, 9.37),
          (-0.04, 8.1), (0, 12.82), (-0.04, 9.37), (0, 6.12), (0.1, 13.82), (0, 3.08)]
LTITLE_DX = [22, 22, 22, 21, 23, 23, 23, 23, 22, 23, 23, 23]
RTITLE_DX = [17, 17, 21, 21, 23, 17, 17, 23, 17, 22, 25, 21]

GREEN = "#5b8c2b"
CRIMSON = "#a51f52"
RCOL = "#a8335f"
SPINE = "#6e6e6e"

fig = go.Figure()
layout = dict(width=W, height=H, autosize=False, margin=dict(l=0, r=0, t=0, b=0),
              paper_bgcolor="white", plot_bgcolor="white", showlegend=False)
annotations = []

for i in range(12):
    n = i + 1
    xl, xr, yt, yb = BOX[i]
    xdom = [xl / W, xr / W]
    ydom = [1 - yb / H, 1 - yt / H]
    xa = "x" if n == 1 else f"x{n}"
    ya_l = "y" if n == 1 else f"y{n}"
    ya_r = f"y{12 + n}"
    prot = PROTEIN[i]
    lig = LIGAND[i]
    fig.add_trace(go.Scatter(x=[k * STEP_NS for k in range(len(prot))], y=prot, mode="lines",
                             line=dict(color=GREEN, width=1.1), xaxis=xa, yaxis=ya_l,
                             name="Protein"))
    fig.add_trace(go.Scatter(x=[k * STEP_NS for k in range(len(lig))], y=lig, mode="lines",
                             line=dict(color=CRIMSON, width=1.1), xaxis=xa, yaxis=ya_r,
                             name="Ligand"))
    tickfont = dict(family="DejaVu Sans", size=7, color="#333333")
    layout["xaxis" if n == 1 else f"xaxis{n}"] = dict(
        domain=xdom, range=[0, 100], anchor=ya_l,
        tickvals=[float(t) for t in TIME_TICKS], ticktext=TIME_TICKS,
        showline=True, linecolor=SPINE, linewidth=1.2, mirror=True,
        ticks="outside", ticklen=2.5, tickcolor=SPINE, tickfont=tickfont,
        ticklabelstandoff=-2,
        showgrid=False, zeroline=False)
    layout["yaxis" if n == 1 else f"yaxis{n}"] = dict(
        domain=ydom, range=list(LRANGE[i]), anchor=xa,
        tickvals=[float(t) for t in LEFT_TICKS[i]], ticktext=LEFT_TICKS[i],
        showline=True, linecolor=SPINE, linewidth=1.2,
        ticks="outside", ticklen=2.5, tickcolor=SPINE, tickfont=tickfont,
        ticklabelstandoff=-1,
        showgrid=False, zeroline=False)
    layout[f"yaxis{12 + n}"] = dict(
        range=list(RRANGE[i]), anchor=xa, overlaying=ya_l, side="right",
        tickvals=[float(t) for t in RIGHT_TICKS[i]], ticktext=RIGHT_TICKS[i],
        showline=True, linecolor=SPINE, linewidth=1.2,
        ticks="outside", ticklen=2.5, tickcolor=RCOL,
        tickfont=dict(family="DejaVu Sans", size=7, color=RCOL),
        ticklabelstandoff=-1,
        showgrid=False, zeroline=False)

    yc = 1 - (yt + yb) / 2 / H
    annotations.append(dict(text="Protein RMSD (Å)", xref="paper", yref="paper",
                            x=(xl - LTITLE_DX[i]) / W, y=yc, xanchor="center", yanchor="middle",
                            textangle=-90, showarrow=False,
                            font=dict(family="Liberation Sans", size=10.5, color="#1a1a1a")))
    annotations.append(dict(text="Ligand RMSD (Å)", xref="paper", yref="paper",
                            x=(xr + RTITLE_DX[i]) / W, y=yc, xanchor="center", yanchor="middle",
                            textangle=90, showarrow=False,
                            font=dict(family="Liberation Sans", size=10.5, color=RCOL)))
    annotations.append(dict(text="Time (nsec)", xref="paper", yref="paper",
                            x=(xl + xr) / 2 / W, y=1 - (yb + 16.5) / H,
                            xanchor="center", yanchor="middle", showarrow=False,
                            font=dict(family="Liberation Sans", size=11, color="#1a1a1a")))
    annotations.append(dict(text=LABELS[i], xref="paper", yref="paper",
                            x=(xr - 17) / W, y=1 - (yb - 14) / H,
                            xanchor="right", yanchor="middle", showarrow=False,
                            font=dict(family="Liberation Sans", size=14, color="#111111")))

layout["annotations"] = annotations
fig.update_layout(**layout)
fig.write_html("out.html")
